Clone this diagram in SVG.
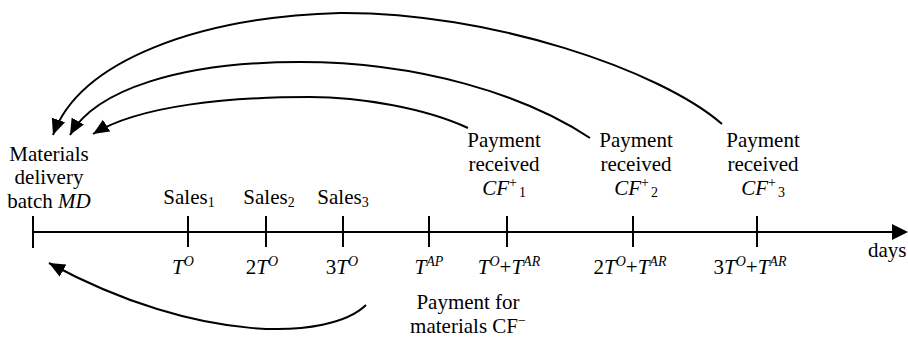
<svg xmlns="http://www.w3.org/2000/svg" width="908" height="338" viewBox="0 0 908 338" font-family="'Liberation Serif', 'Times New Roman', 'DejaVu Serif', serif">
<style>
text{font-family:'Liberation Serif','Times New Roman','DejaVu Serif',serif;font-size:21px;fill:#000}
.c{text-anchor:middle}
.i{font-style:italic}
.sup{font-size:14px}
.sub{font-size:14px}
.ln{fill:none;stroke:#000;stroke-width:2}
.tk{stroke:#000;stroke-width:2}
</style>
<defs>
<marker id="ah" markerUnits="userSpaceOnUse" markerWidth="18" markerHeight="16" refX="16" refY="7" orient="auto">
<path d="M0,0 L16,7 L0,14 Z" fill="#000"/>
</marker>
</defs>
<rect width="908" height="338" fill="#fff"/>
<g id="axis">
<line class="tk" x1="33" y1="232" x2="894" y2="232"/>
<path d="M892,224 L908,232 L892,240 Z" fill="#000"/>
<line class="tk" x1="33" y1="216" x2="33" y2="248"/>
<line class="tk" x1="188" y1="216" x2="188" y2="247"/>
<line class="tk" x1="266" y1="216" x2="266" y2="247"/>
<line class="tk" x1="343" y1="216" x2="343" y2="247"/>
<line class="tk" x1="429" y1="216" x2="429" y2="247"/>
<line class="tk" x1="507" y1="216" x2="507" y2="247"/>
<line class="tk" x1="633" y1="216" x2="633" y2="247"/>
<line class="tk" x1="757" y1="216" x2="757" y2="247"/>
<text x="868" y="257">days</text>
</g>
<g id="md">
<text class="c" x="49" y="161">Materials</text>
<text class="c" x="49" y="184">delivery</text>
<text class="c" x="49" y="208">batch <tspan class="i">MD</tspan></text>
</g>
<g id="sales1"><text class="c" x="189" y="204">Sales<tspan class="sub" dy="3">1</tspan></text></g>
<g id="sales2"><text class="c" x="269" y="204">Sales<tspan class="sub" dy="3">2</tspan></text></g>
<g id="sales3"><text class="c" x="343" y="204">Sales<tspan class="sub" dy="3">3</tspan></text></g>
<g id="pay1">
<text class="c" x="504" y="147">Payment</text>
<text class="c" x="504" y="171">received</text>
<text class="c" x="504" y="195"><tspan class="i">CF</tspan><tspan class="sup" dy="-8">+</tspan><tspan class="sub" dx="2" dy="10">1</tspan></text>
</g>
<g id="pay2">
<text class="c" x="636" y="147">Payment</text>
<text class="c" x="636" y="171">received</text>
<text class="c" x="636" y="195"><tspan class="i">CF</tspan><tspan class="sup" dy="-8">+</tspan><tspan class="sub" dx="2" dy="10">2</tspan></text>
</g>
<g id="pay3">
<text class="c" x="763" y="147">Payment</text>
<text class="c" x="763" y="171">received</text>
<text class="c" x="763" y="195"><tspan class="i">CF</tspan><tspan class="sup" dy="-8">+</tspan><tspan class="sub" dx="2" dy="10">3</tspan></text>
</g>
<g id="ticklabels">
<text class="c" x="183" y="274"><tspan class="i">T</tspan><tspan class="sup i" dy="-8">O</tspan></text>
<text class="c" x="262" y="274">2<tspan class="i">T</tspan><tspan class="sup i" dy="-8">O</tspan></text>
<text class="c" x="342" y="274">3<tspan class="i">T</tspan><tspan class="sup i" dy="-8">O</tspan></text>
<text class="c" x="429" y="274"><tspan class="i">T</tspan><tspan class="sup i" dy="-8">AP</tspan></text>
<text class="c" x="509" y="274"><tspan class="i">T</tspan><tspan class="sup i" dy="-8">O</tspan><tspan dy="8">+</tspan><tspan class="i">T</tspan><tspan class="sup i" dy="-8">AR</tspan></text>
<text class="c" x="630" y="274">2<tspan class="i">T</tspan><tspan class="sup i" dy="-8">O</tspan><tspan dy="8">+</tspan><tspan class="i">T</tspan><tspan class="sup i" dy="-8">AR</tspan></text>
<text class="c" x="750" y="274">3<tspan class="i">T</tspan><tspan class="sup i" dy="-8">O</tspan><tspan dy="8">+</tspan><tspan class="i">T</tspan><tspan class="sup i" dy="-8">AR</tspan></text>
</g>
<g id="paymat">
<text class="c" x="468" y="309">Payment for</text>
<text class="c" x="468" y="333">materials CF<tspan class="sup" dy="-8">−</tspan></text>
</g>
<g id="connectors">
<path class="ln" marker-end="url(#ah)" d="M722,124 C660,70 490,12 340,13 C200,17 80,60 53,135"/>
<path class="ln" marker-end="url(#ah)" d="M590,138 C525,95 420,62 300,62 C180,62 95,90 70,135"/>
<path class="ln" marker-end="url(#ah)" d="M468,128 C425,108 360,97 310,97 C230,97 140,105 93,134"/>
<path class="ln" marker-end="url(#ah)" d="M366,305 C330,340 200,345 49,263"/>
</g>
</svg>
